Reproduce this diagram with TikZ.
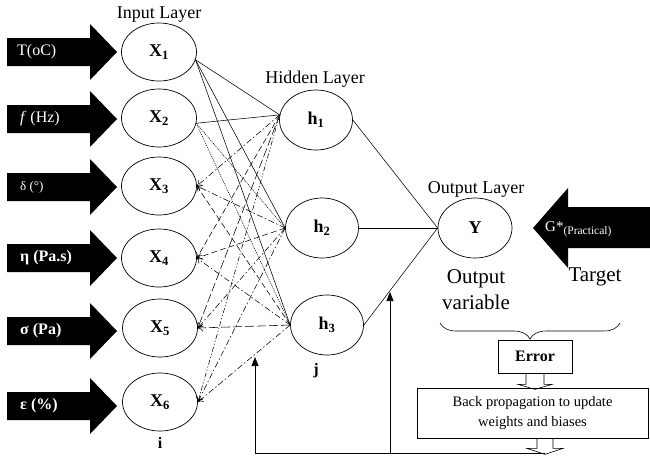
\documentclass[tikz,border=0pt]{standalone}
\usepackage{fontspec}
\setmainfont{Liberation Serif}
\usetikzlibrary{arrows.meta,decorations.pathreplacing,shapes.geometric,calc}
\newcommand{\inarrow}[4]{%
  \fill (7,#1-14) -- (90,#1-14) -- (90,#1-28) -- (117,#1) -- (90,#1+28) -- (90,#1+14) -- (7,#1+14) -- cycle;
  \node[intext,#4] (#2) at (17,#1) {#3};}
\begin{document}
\begin{tikzpicture}[x=1pt,y=-1pt,
  neuron/.style={ellipse,draw,line width=0.7pt,minimum width=75pt,minimum height=58pt,inner sep=0pt,font=\fontsize{18}{18}\selectfont\bfseries},
  hidn/.style={neuron,minimum width=73pt,minimum height=60pt},
  lbl/.style={font=\fontsize{18}{18}\selectfont,inner sep=0pt},
  big/.style={font=\fontsize{21}{26}\selectfont,inner sep=0pt,align=center},
  intext/.style={text=white,anchor=west,inner sep=0pt,font=\fontsize{16}{16}\selectfont},
  conn/.style={line width=0.55pt},
  dotl/.style={conn,dash pattern=on 1pt off 1pt},
  dsh/.style={conn,dash pattern=on 6pt off 3pt},
  ldsh/.style={conn,dash pattern=on 9pt off 3pt},
  dshdot/.style={conn,dash pattern=on 6pt off 2.5pt on 1.5pt off 2.5pt},
  dshdd/.style={conn,dash pattern=on 5pt off 2pt on 1.2pt off 2pt on 1.2pt off 2pt},
  back/.style={-{To[length=5pt,width=7pt]}},
  fb/.style={line width=0.7pt,-{Triangle[length=9pt,width=7pt]}},
  box/.style={draw,line width=0.7pt,inner sep=0pt}
]
\useasboundingbox (0,0) rectangle (650,456);

% input block arrows
\inarrow{52}{a1}{T(oC)}{}
\inarrow{119}{a2}{\textit{f} (Hz)}{xshift=3pt}
\inarrow{187}{a3}{δ (°)}{xshift=3pt,font=\fontsize{13}{13}\selectfont}
\inarrow{258}{a4}{\textbf{η (Pa.s)}}{xshift=3pt}
\inarrow{331}{a5}{\textbf{σ  (Pa)}}{xshift=3pt}
\inarrow{406}{a6}{\textbf{ε (\%)}}{xshift=3pt}

% input neurons
\node[neuron] (x1) at (159,52) {X\textsubscript{1}};
\node[neuron] (x2) at (159,118) {X\textsubscript{2}};
\node[neuron] (x3) at (159,186) {X\textsubscript{3}};
\node[neuron] (x4) at (159,258) {X\textsubscript{4}};
\node[neuron] (x5) at (160,328) {X\textsubscript{5}};
\node[neuron] (x6) at (160,402) {X\textsubscript{6}};

% hidden neurons
\node[hidn] (h1) at (316,120) {h\textsubscript{1}};
\node[hidn] (h2) at (322,228) {h\textsubscript{2}};
\node[hidn] (h3) at (327,325) {h\textsubscript{3}};

% output neuron
\node[neuron,minimum width=74pt,minimum height=60pt] (y) at (475,228) {Y};

% layer labels
\node[lbl] (lin) at (159,15) {Input Layer};
\node[lbl] (lhid) at (315,79) {Hidden Layer};
\node[lbl] (lout) at (476,189) {Output Layer};
\node[lbl,font=\fontsize{16}{16}\selectfont\bfseries] (li) at (160,443) {i};
\node[lbl,font=\fontsize{16}{16}\selectfont\bfseries] (lj) at (316,371) {j};

% input -> hidden
\draw[conn] (x1.-12) -- (h1.172);
\draw[conn] (x1.-12) -- (h2.west);
\draw[conn] (x1.-12) -- (h3.west);
\draw[conn] (x2.-8) -- (h1.172);
\draw[dotl] (x2.-8) -- (h2.west);
\draw[dotl] (x2.-8) -- (h3.west);

% hidden -> inputs (arrows)
\draw[dshdot,back] (h1.172) -- (x3.east);
\draw[dshdot,back] (h2.west) -- (x3.east);
\draw[dsh,back] (h3.west) -- (x3.east);
\draw[dsh,back] (h1.172) -- (x4.east);
\draw[dsh,back] (h2.west) -- (x4.east);
\draw[dshdot,back] (h3.west) -- (x4.east);
\draw[ldsh,back] (h1.172) -- (x5.east);
\draw[dshdot,back] (h2.west) -- (x5.east);
\draw[ldsh,back] (h3.west) -- (x5.east);
\draw[dshdd,back] (h1.172) -- (x6.east);
\draw[dshdot,back] (h2.west) -- (x6.east);
\draw[dshdot,back] (h3.west) -- (x6.east);

% hidden -> output
\draw[conn] (h1.east) -- (y.west);
\draw[conn,line width=0.8pt] (h2.east) -- (y.west);
\draw[conn] (h3.east) -- (y.west);

% target arrow
\fill (650,207) -- (568,207) -- (568,188) -- (533,228) -- (568,268) -- (568,248) -- (650,248) -- cycle;
\node[intext] (gt) at (545,229) {\fontsize{15}{15}\selectfont G*\raisebox{-3pt}{\fontsize{11.5}{11.5}\selectfont(Practical)}};

\node[big] (outvar) at (476,290) {Output\\variable};
\node[big] (tgt) at (595,277) {Target};

% brace
\draw[line width=0.6pt,decorate,decoration={brace,amplitude=16pt,mirror}] (440,323) -- (620,323);

% error and back-propagation boxes
\node[box,minimum width=74pt,minimum height=33pt,font=\fontsize{16}{16}\selectfont\bfseries] (err) at (535,356.5) {Error};
\node[box,minimum width=231pt,minimum height=50pt,align=center,font=\fontsize{14.5}{20}\selectfont] (bp) at (532.5,413) {Back propagation to update\\weights and biases};

% hollow arrows
\draw[line width=0.6pt] ($(err.south)+(-9,0)$) -- ++(0,11) -- ++(-8,0) -- ($(err.south)+(0,16)$) -- ($(err.south)+(17,11)$) -- ++(-8,0) -- ($(err.south)+(9,0)$);
\coordinate (bpo) at ($(bp.south)+(12.5,0)$);
\draw[line width=0.6pt] ($(bpo)+(-8,0)$) -- ++(0,10) -- ++(-10,0) -- ($(bpo)+(0,16)$) -- ($(bpo)+(18,10)$) -- ++(-10,0) -- ($(bpo)+(8,0)$);

% feedback lines
\coordinate (fbR) at (545,453);
\coordinate (fbL) at (255,453);
\coordinate (fbM) at (390,453);
\coordinate (fbLt) at (255,357);
\coordinate (fbMt) at (390,292);
\draw[line width=0.7pt] (fbR) -- (fbL);
\draw[fb] (fbL) -- (fbLt);
\draw[fb] (fbM) -- (fbMt);
\end{tikzpicture}
\end{document}
